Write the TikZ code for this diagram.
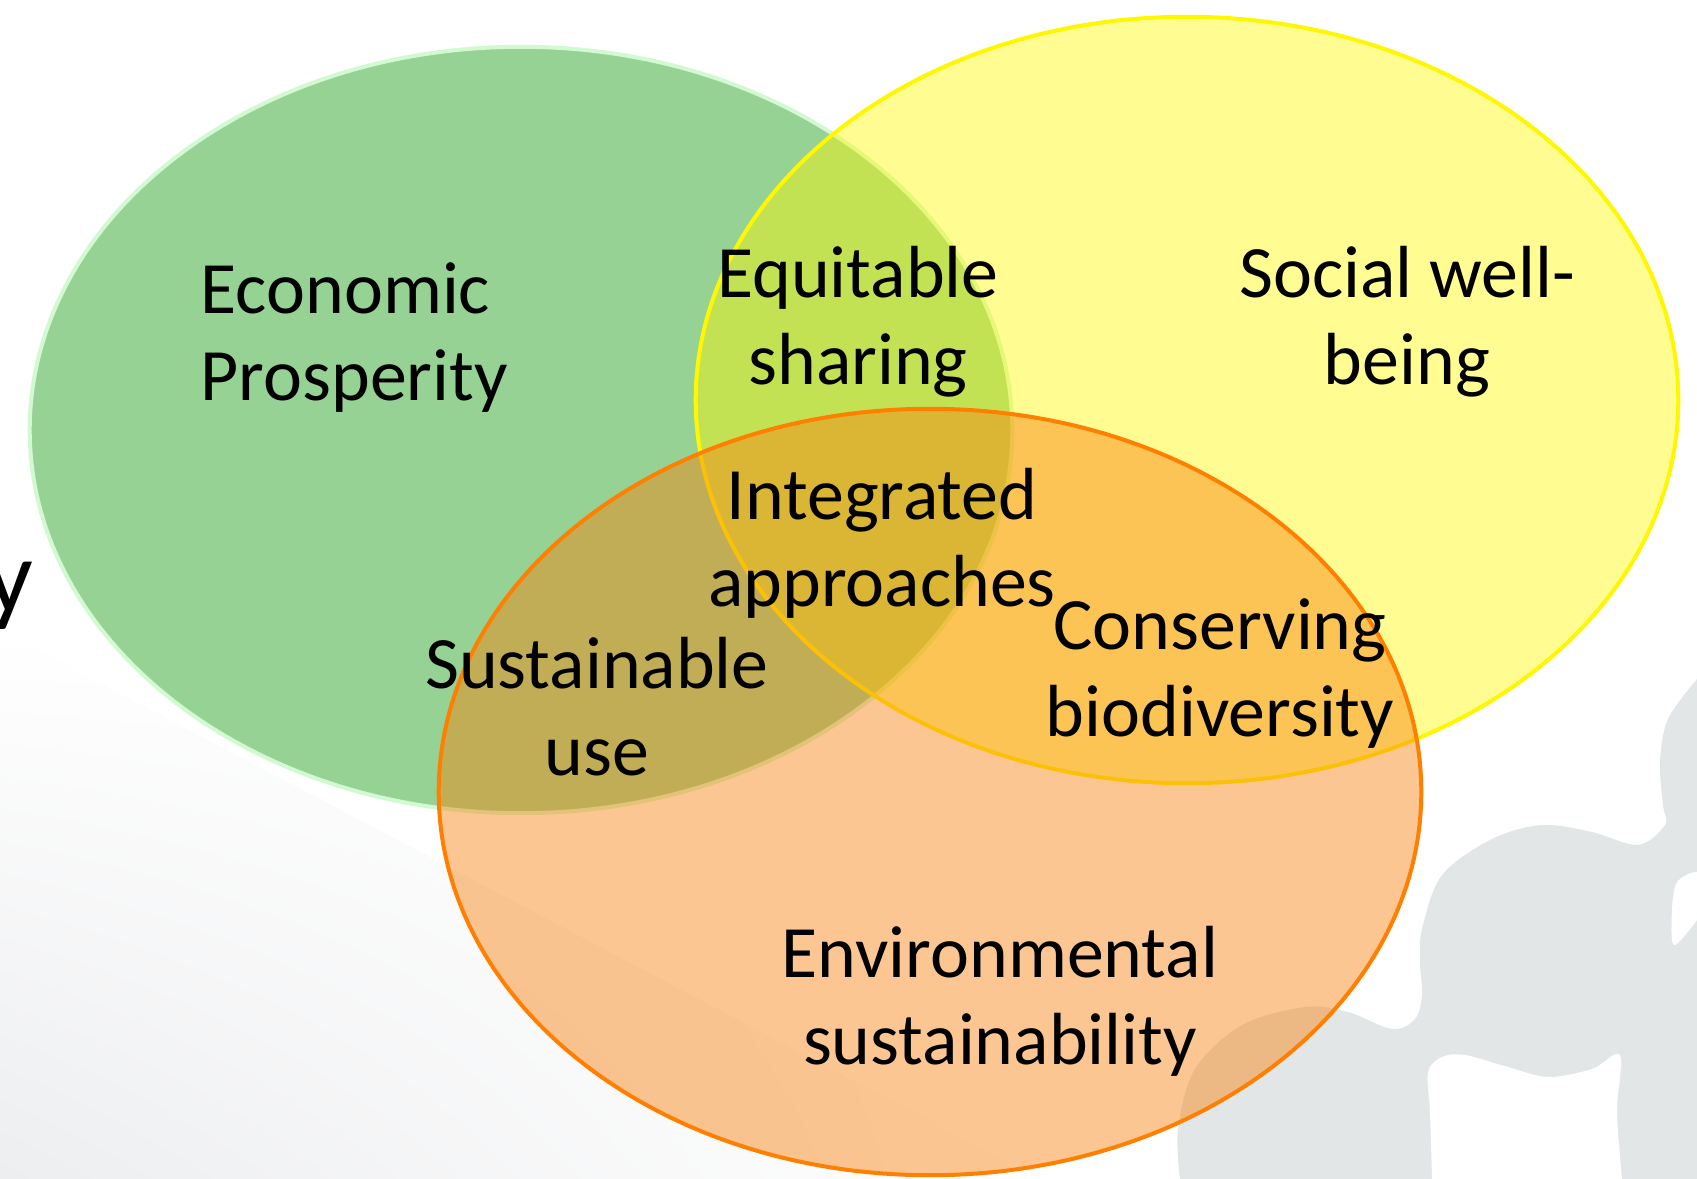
\documentclass[tikz,border=0pt]{standalone}
\usepackage{fontspec}
\setmainfont{Carlito}
\usepackage{tikz}
\usetikzlibrary{shapes.geometric,shadings}
\definecolor{Ink}{HTML}{000000}
\definecolor{EconFill}{RGB}{11,150,8}
\definecolor{EconLine}{HTML}{D3F9D3}
\definecolor{SocFill}{RGB}{255,248,0}
\definecolor{SocLine}{HTML}{FFF700}
\definecolor{EnvFill}{RGB}{248,130,15}
\definecolor{EnvLine}{HTML}{FF8000}
\definecolor{Puzzle}{HTML}{E2E6E7}
\definecolor{Fog}{HTML}{EDEEF0}
\tikzset{
  vset/.style={ellipse,minimum width=9.82cm,minimum height=7.66cm,inner sep=0pt,line width=.04cm},
  vecon/.style={vset,fill=EconFill,fill opacity=.43,draw=EconLine},
  vsoc/.style={vset,fill=SocFill,fill opacity=.43,draw=SocLine},
  venv/.style={vset,fill=EnvFill,fill opacity=.455,draw=EnvLine},
  vlabel/.style={font=\fontsize{21}{24.5}\selectfont,text=Ink,align=center,inner sep=0pt,anchor=base}
}

\begin{document}
\begin{tikzpicture}[x=.01cm,y=-.01cm]
  \useasboundingbox (0,0) rectangle (1697,1179);
  \clip (0,0) rectangle (1697,1179);

  % slide background: fog band, puzzle piece, cut word
  \shade[upper left=white,upper right=white,lower right=white,lower left=Fog] (0,630)--(1040,1179)--(0,1179)--cycle;
  \fill[Puzzle] plot[smooth,tension=.55] coordinates {(1697,679) (1668,719) (1660,762) (1663,805) (1665,825) (1638,845) (1592,832) (1542,825) (1492,839) (1442,875) (1422,929) (1420,962) (1422,995) (1415,1019) (1392,1029) (1348,1012) (1305,1007) (1242,1025) (1195,1069) (1178,1129) (1180,1179)} -- (1697,1179) -- cycle;
  \fill[white] plot[smooth,tension=.55] coordinates {(1432,1179) (1430,1112) (1428,1072) (1442,1057) (1465,1055) (1508,1067) (1548,1077) (1592,1069) (1620,1055) (1617,1112) (1622,1179)} -- cycle;
  \fill[white] plot[smooth,tension=.55] coordinates {(1697,872) (1688,874) (1676,884) (1672,910) (1674,945) (1697,920)} -- cycle;
  \node[font=\fontsize{30}{34}\selectfont,anchor=base east,inner sep=0pt] (ytail) at (34,612) {y};

  % the three sets
  \node[vecon] (econ) at (521,430) {};
  \node[vsoc] (soc) at (1187,400) {};
  \node[venv] (env) at (930,792) {};

  % labels, placed at the last baseline
  \node[vlabel,align=left,anchor=base west] (econtxt) at (200,400) {Economic\\Prosperity};
  \node[vlabel] (equtxt) at (858,384) {Equitable\\sharing};
  \node[vlabel] (soctxt) at (1407,384) {Social well-\\being};
  \node[vlabel] (inttxt) at (882,606) {Integrated\\approaches};
  \node[vlabel] (contxt) at (1220,736) {Conserving\\biodiversity};
  \node[vlabel] (sustxt) at (597,775) {Sustainable\\use};
  \node[vlabel] (envtxt) at (1000,1064) {Environmental\\sustainability};
\end{tikzpicture}
\end{document}
